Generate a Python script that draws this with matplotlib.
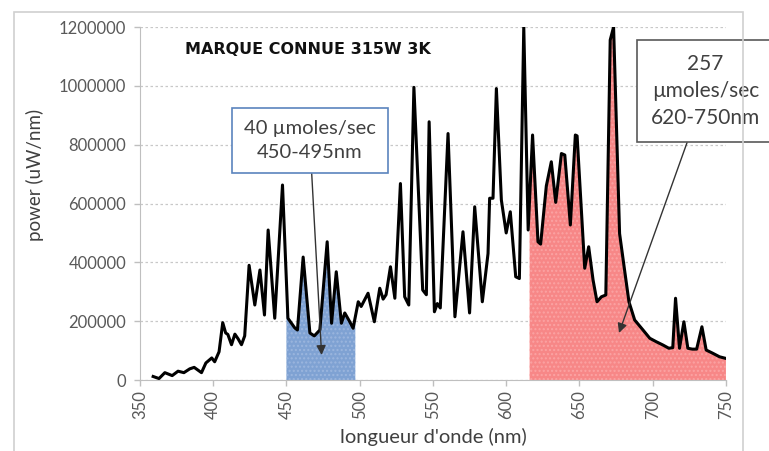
import numpy as np
import matplotlib
matplotlib.use("Agg")
import matplotlib.pyplot as plt
from matplotlib.patches import Rectangle

# spectrum (wavelength in nm, power in uW/nm)
wavelength = [359, 363, 367, 372, 376, 380, 384, 387, 392, 395, 399, 401, 404,
              406.5, 408.5, 410, 412.5, 414.8, 417, 419.3, 421.5, 424.5, 428.4,
              431.9, 435, 437.5, 442, 447.3, 451, 455.7, 457.5, 461.4, 466, 469,
              472.8, 477.8, 480.8, 484, 487.5, 489.8, 493, 495.5, 499, 501, 505.7,
              510, 513.7, 516, 518, 521, 524, 527.8, 530.7, 533.5, 537, 543, 545.5,
              547.4, 551, 553, 555, 560.3, 565, 570.5, 575, 578.5, 583.7, 587.6,
              588.7, 591, 593.3, 596.7, 600, 602.8, 606.5, 609, 612, 615, 618,
              621.7, 623.5, 627.4, 630.8, 633.8, 637.7, 640, 643.8, 647.2, 648.4,
              653.6, 656.3, 659.3, 662, 665, 668, 671, 673.3, 677.4, 680.8, 683.8,
              687.7, 693.4, 698, 702.5, 707, 711, 713.7, 715.6, 718.3, 721.3, 724,
              727, 730, 733.6, 736.5, 741, 745.6, 749.5]
power = [12000, 5000, 25000, 15000, 30000, 25000, 38000, 43000, 25000, 58000,
         75000, 62000, 96000, 195000, 160000, 155000, 120000, 156000, 140000,
         120000, 150000, 390000, 255000, 374000, 221000, 510000, 210000, 663000,
         210000, 177000, 170000, 418000, 160000, 150000, 170000, 470000, 193000,
         368000, 193000, 228000, 200000, 176000, 266000, 250000, 295000, 198000,
         312000, 275000, 290000, 385000, 278000, 668000, 283000, 255000, 995000,
         306000, 290000, 878000, 232000, 260000, 245000, 838000, 215000, 504000,
         228000, 589000, 266000, 430000, 618000, 618000, 991000, 612000, 500000,
         572000, 351000, 345000, 1200000, 510000, 833000, 470000, 462000, 660000,
         742000, 604000, 770000, 765000, 527000, 833000, 830000, 380000, 453000,
         340000, 266000, 283000, 289000, 1156000, 1200000, 498000, 374000, 266000,
         204000, 170000, 142000, 130000, 119000, 108000, 110000, 278000, 108000,
         198000, 108000, 105000, 105000, 181000, 102000, 91000, 79000, 74000]

blue_band = (450, 497)
red_band = (616, 750)

x_ticks = [350, 400, 450, 500, 550, 600, 650, 700, 750]
y_ticks = [0, 200000, 400000, 600000, 800000, 1000000, 1200000]

plt.rcParams['font.family'] = ['Lato', 'DejaVu Sans']

fig = plt.figure(figsize=(7.69, 4.51), dpi=100)
ax = fig.add_axes([0.182, 0.1574, 0.762, 0.7826])

# outer chart frame
fig.patches.append(Rectangle((14 / 769, -0.1), (743 - 14) / 769, 1.1 - 12 / 451,
                             transform=fig.transFigure, fill=False,
                             edgecolor='#d0d0d0', linewidth=1.2))

# shaded bands under the curve
for band, face, hatch_col in [(blue_band, '#7fa2d3', '#9bb6de'),
                              (red_band, '#f78787', '#fba3a3')]:
    xs = np.linspace(band[0], band[1], 400)
    ys = np.interp(xs, wavelength, power)
    ax.fill_between(xs, 0, ys, facecolor=face, edgecolor=hatch_col,
                    hatch='....', linewidth=0, zorder=2)

ax.plot(wavelength, power, color='black', linewidth=2.2, zorder=3,
        solid_joinstyle='round')

ax.set_xlim(350, 750)
ax.set_ylim(0, 1200000)
ax.set_xticks(x_ticks)
ax.set_yticks(y_ticks)
ax.set_xticklabels([str(t) for t in x_ticks], rotation=90)
ax.set_yticklabels([str(t) for t in y_ticks])
ax.tick_params(axis='both', colors='#bfbfbf', labelcolor='#595959',
               labelsize=12, length=4, width=1)
ax.tick_params(axis='y', pad=6)

ax.grid(axis='y', color='#c8c8c8', linestyle=(0, (2, 2)), linewidth=0.9, zorder=1)
for side in ['top', 'right']:
    ax.spines[side].set_visible(False)
for side in ['left', 'bottom']:
    ax.spines[side].set_color('#bfbfbf')

ax.set_ylabel('power (uW/nm)', fontsize=13.5, color='#404040')
ax.yaxis.set_label_coords(-0.164, 0.58)
ax.set_xlabel("longueur d'onde (nm)", fontsize=14.5, color='#404040')
ax.xaxis.set_label_coords(0.5, -0.137)

fig.text(185 / 769, 1 - 49 / 451, 'MARQUE CONNUE 315W 3K', fontsize=11.5,
         fontweight='bold', family='DejaVu Sans', color='#111111', va='center')

ax.annotate('40 µmoles/sec\n450-495nm', xy=(474, 85000), xytext=(466, 815000),
            ha='center', va='center', fontsize=14.5, color='#404040', linespacing=1.5,
            bbox=dict(boxstyle='square,pad=0.6', facecolor='white',
                      edgecolor='#5b84bd', linewidth=1.2),
            arrowprops=dict(arrowstyle='-|>', color='#333333', lw=1.0,
                            mutation_scale=14, shrinkA=0, shrinkB=0),
            zorder=5, annotation_clip=False)

ax.annotate('257\nµmoles/sec\n620-750nm', xy=(677, 160000), xytext=(736, 982000),
            ha='center', va='center', fontsize=15, color='#404040', linespacing=1.45,
            bbox=dict(boxstyle='square,pad=0.65', facecolor='white',
                      edgecolor='#595959', linewidth=1.2),
            arrowprops=dict(arrowstyle='-|>', color='#333333', lw=1.0,
                            mutation_scale=14, shrinkA=0, shrinkB=0),
            zorder=5, annotation_clip=False)

fig.savefig('out.png', dpi=100)
